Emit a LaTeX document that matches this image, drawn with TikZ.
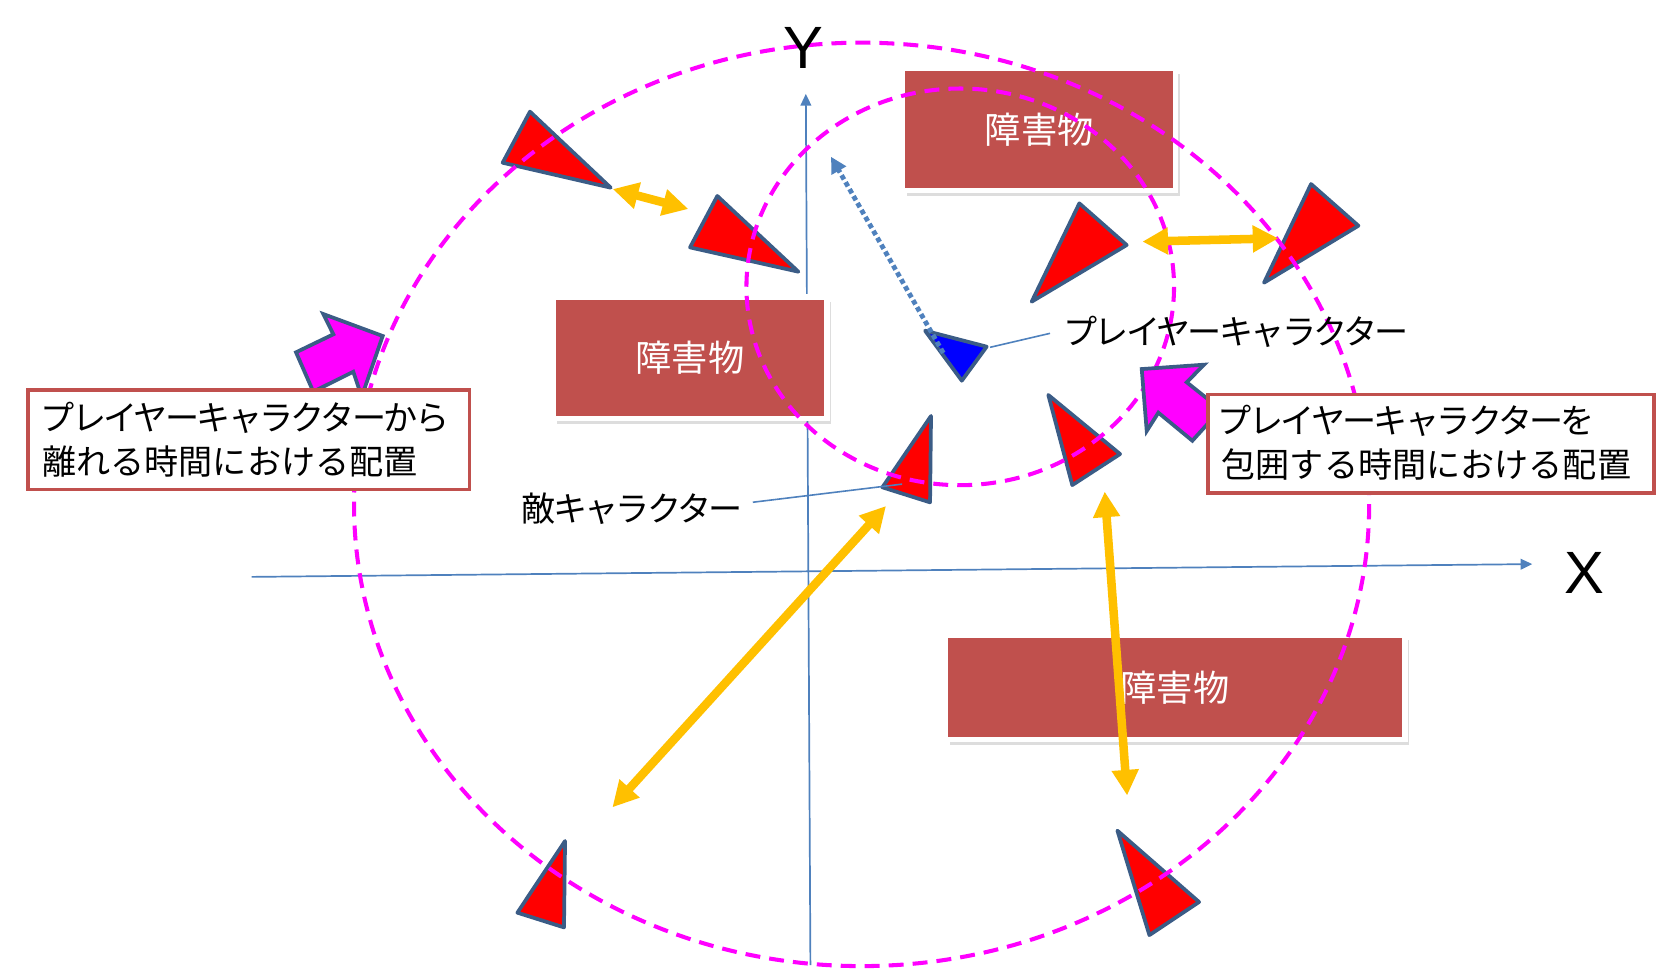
\documentclass[tikz,border=0pt]{standalone}
\usepackage{fontspec}
\newfontfamily\jp{Noto Sans CJK JP}
\newfontfamily\jpk[LetterSpace=-8]{Noto Sans CJK JP}
\newfontfamily\lat{Liberation Sans}
\usetikzlibrary{arrows.meta,shadows}
\definecolor{magc}{HTML}{FF00FF}
\definecolor{orac}{HTML}{FFC000}
\definecolor{redc}{HTML}{FF0000}
\definecolor{edgec}{HTML}{3B5C86}
\definecolor{axisc}{HTML}{4F81BD}
\definecolor{obstc}{HTML}{C0504D}
\definecolor{bluec}{HTML}{0000FF}
\tikzset{
  axisline/.style={draw=axisc, line width=1.6pt, -{Triangle[length=11pt,width=10pt]}},
  obstbox/.style={fill=obstc, draw=white, line width=5pt, inner sep=0pt, text=white,
     font=\jp\fontsize{34}{40}\selectfont,
     drop shadow={shadow xshift=4pt, shadow yshift=-5pt, opacity=0.22, fill=black!60}},
  enemytri/.style={fill=redc, draw=edgec, line width=3.5pt, line join=round},
  playertri/.style={fill=bluec, draw=edgec, line width=3.5pt, line join=round},
  circdash/.style={draw=magc, line width=3.8pt, dash pattern=on 14pt off 8.5pt},
  blockarrow/.style={fill=magc, draw=edgec, line width=3.5pt, line join=miter},
  labelbox/.style={draw=obstc, line width=3.6pt, fill=white, inner sep=0pt},
  oarrow/.style={draw=orac, line width=8pt, {Triangle[length=24pt,width=24pt]}-{Triangle[length=24pt,width=24pt]}},
  leader/.style={draw=axisc, line width=1.5pt},
  jtext/.style={inner sep=0pt, anchor=west, font=\jp\fontsize{32}{40}\selectfont},
  ktext/.style={inner sep=0pt, anchor=west, font=\jpk\fontsize{32}{40}\selectfont},
  axlabel/.style={inner sep=0pt, font=\lat\fontsize{56}{60}\selectfont}
}
\begin{document}
\begin{tikzpicture}[x=1pt,y=-1pt]
\useasboundingbox (0,0) rectangle (1568,919);
% axes
\coordinate (xs) at (236,541); \coordinate (xe) at (1437,529);
\coordinate (ys) at (760,905); \coordinate (ye) at (755.7,88);
\draw[axisline] (xs) -- (xe);
\draw[axisline] (ys) -- (ye);
% obstacles
\node[obstbox, minimum width=256pt, minimum height=114pt] (ob1) at (974.5,121.5) {障害物};
\node[obstbox, minimum width=257pt, minimum height=114pt] (ob2) at (647,335.5) {障害物};
\node[obstbox, minimum width=431pt, minimum height=98pt] (ob3) at (1102,644.5) {障害物};
% enemy triangles
\draw[enemytri] (497,104.7) -- (471.4,152.6) -- (572.7,176) -- cycle;
\draw[enemytri] (672.7,183.8) -- (647.1,232) -- (748.7,254.8) -- cycle;
\draw[enemytri] (1012.2,190.7) -- (967.5,282.9) -- (1056.6,229.8) -- cycle;
\draw[enemytri] (1229.5,172.6) -- (1185.4,265.1) -- (1273.9,211.7) -- cycle;
\draw[enemytri] (873.1,390.1) -- (827.5,457) -- (872.2,471.1) -- cycle;
\draw[enemytri] (983.1,370.4) -- (1050.4,425.8) -- (1005.6,454.9) -- cycle;
\draw[enemytri] (529.9,788.7) -- (485.2,855.9) -- (528.9,869.7) -- cycle;
\draw[enemytri] (1047.9,779) -- (1124.5,845.9) -- (1077.9,876.9) -- cycle;
% player triangle
\draw[playertri] (867.5,310.1) -- (925.3,325.1) -- (902,357) -- cycle;
% dashed circles
\draw[circdash] (808,473) ellipse [x radius=476, y radius=433];
\draw[circdash] (900.5,269) ellipse [x radius=200.5, y radius=186];
% block arrows
\draw[blockarrow] (358.9,315.1) -- (339.2,372) -- (331.3,348.6) -- (293.8,367.3)
   -- (277.6,330.4) -- (312.6,313.5) -- (303.2,294.5) -- cycle;
\draw[blockarrow] (1070.7,346.1) -- (1129.1,342) -- (1112.9,358.5) -- (1144.8,383.9)
   -- (1118.2,413.3) -- (1086.3,387) -- (1075.4,404.2) -- cycle;
% label boxes
\node[labelbox, minimum width=414pt, minimum height=93pt] (lb1) at (233.3,412.6) {};
\node[labelbox, minimum width=418pt, minimum height=92pt] (lb2) at (1342,416) {};
\node[ktext] (lb1a) at (38,391.4) {プレイヤーキャラクターから};
\node[jtext] (lb1b) at (39.5,433) {離れる時間における配置};
\node[ktext] (lb2a) at (1142,395) {プレイヤーキャラクターを};
\node[jtext] (lb2b) at (1145.5,436) {包囲する時間における配置};
% orange double arrows
\coordinate (a1s) at (574.6,177.3); \coordinate (a1e) at (645.5,196);
\coordinate (a2s) at (1071.3,226.6); \coordinate (a2e) at (1198.8,223.5);
\coordinate (a3s) at (830.9,474.5); \coordinate (a3e) at (574.3,757.1);
\coordinate (a4s) at (1036,461); \coordinate (a4e) at (1057,746);
\draw[oarrow] (a1s) -- (a1e);
\draw[oarrow] (a2s) -- (a2e);
\draw[oarrow] (a3s) -- (a3e);
\draw[oarrow] (a4s) -- (a4e);
% dotted movement arrow
\coordinate (ps) at (884.6,331); \coordinate (pt) at (779.3,147);
\draw[draw=axisc, line width=4.5pt, dash pattern=on 4.5pt off 3pt,
   -{Triangle[length=15pt,width=15pt]}] (ps) -- (pt);
% labels
\node[ktext] (plab) at (997,311) {プレイヤーキャラクター};
\node[ktext] (elab) at (489,477) {敵キャラクター};
\coordinate (pl1) at (984.7,312.6); \coordinate (pl2) at (928.5,325.7);
\coordinate (el1) at (706,471); \coordinate (el2) at (846,454);
\draw[leader] (pl1) -- (pl2);
\draw[leader] (el1) -- (el2);
\node[axlabel] (ylab) at (753.4,45.3) {Y};
\node[axlabel] (xlab) at (1486,537) {X};
\end{tikzpicture}
\end{document}
